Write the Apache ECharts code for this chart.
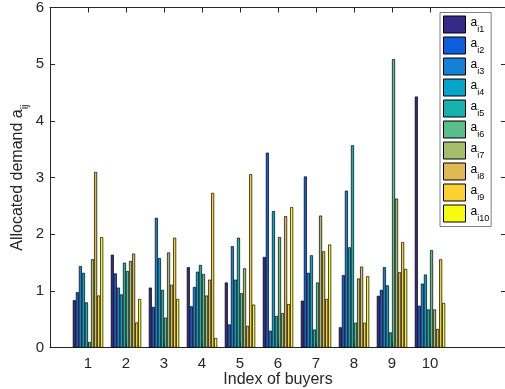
<!DOCTYPE html>
<html>
<head>
<meta charset="utf-8">
<script src="https://cdn.jsdelivr.net/npm/echarts@6/dist/echarts.min.js"></script>
<style>html,body{margin:0;padding:0;background:#fff}#c{width:505px;height:389px}</style>
</head>
<body>
<div id="c"></div>
<script>
// Index of buyers
const buyers = [1, 2, 3, 4, 5, 6, 7, 8, 9, 10];
const xTicks = [1, 2, 3, 4, 5, 6, 7, 8, 9, 10];
const yTicks = [0, 1, 2, 3, 4, 5, 6];
const seriesNames = ['i1', 'i2', 'i3', 'i4', 'i5', 'i6', 'i7', 'i8', 'i9', 'i10'];
// Allocated demand per series (one value per buyer)
const ai1  = [0.84, 1.64, 1.06, 1.42, 1.15, 1.60, 0.83, 0.36, 0.915, 4.43];
const ai2  = [0.98, 1.31, 0.72, 0.73, 0.41, 3.44, 3.02, 1.28, 1.02, 0.74];
const ai3  = [1.44, 1.06, 2.29, 1.07, 1.79, 0.30, 1.32, 2.77, 1.42, 1.13];
const ai4  = [1.32, 0.94, 1.58, 1.34, 1.20, 2.41, 1.63, 1.77, 1.10, 1.29];
const ai5  = [0.80, 1.50, 1.02, 1.46, 1.94, 0.56, 0.32, 3.57, 0.27, 0.675];
const ai6  = [0.10, 1.35, 0.53, 1.30, 0.96, 1.95, 1.15, 0.44, 5.09, 1.72];
const ai7  = [1.56, 1.53, 1.68, 0.92, 1.40, 0.61, 2.33, 1.22, 2.63, 0.675];
const ai8  = [3.10, 1.66, 1.11, 1.20, 0.385, 2.32, 1.70, 1.43, 1.33, 0.33];
const ai9  = [0.92, 0.445, 1.94, 2.73, 3.06, 0.77, 0.86, 0.44, 1.86, 1.56];
const ai10 = [1.95, 0.86, 0.86, 0.17, 0.76, 2.48, 1.82, 1.26, 1.39, 0.79];
const allSeries = [ai1, ai2, ai3, ai4, ai5, ai6, ai7, ai8, ai9, ai10];

const colors = ['#352a87', '#0f5cdd', '#1481d6', '#06a4ca', '#17b2b0',
                '#59bd8c', '#a5be6b', '#e0b952', '#fcd030', '#f9fb0e'];
const axisColor = '#262626';
const fontFam = '"Liberation Sans", Arial, Helvetica, sans-serif';

const chart = echarts.init(document.getElementById('c'), null, {renderer: 'canvas'});

const series = allSeries.map((vals, s) => ({
  name: seriesNames[s],
  type: 'bar',
  xAxisIndex: 0,
  yAxisIndex: 0,
  barGap: 0,
  barCategoryGap: '20%',
  itemStyle: {color: colors[s], borderColor: '#000', borderWidth: 0.7},
  emphasis: {disabled: true},
  animation: false,
  data: buyers.map((b, i) => [b, vals[i]])
}));

const tickStyle = {show: true, inside: true, length: 5, lineStyle: {color: axisColor, width: 1}};

chart.setOption({
  backgroundColor: '#fff',
  animation: false,
  textStyle: {fontFamily: fontFam},
  grid: {left: 50, right: -1, top: 7.5, bottom: 41.3, containLabel: false, outerBoundsMode: 'none'},
  legend: {
    orient: 'vertical',
    left: 440,
    top: 12.5,
    padding: [3, 2, 3, 3],
    itemWidth: 22,
    itemHeight: 17,
    itemGap: 2,
    icon: 'rect',
    backgroundColor: '#fff',
    borderColor: axisColor,
    borderWidth: 0.6,
    borderRadius: 0,
    selectedMode: false,
    itemStyle: {borderColor: '#000', borderWidth: 1},
    data: seriesNames,
    formatter: n => '{a|a}{s|' + n + '}',
    textStyle: {
      color: '#000',
      rich: {
        a: {fontSize: 12, lineHeight: 20, fontFamily: fontFam, color: '#000', padding: [0, 0, 3, 0]},
        s: {fontSize: 9, lineHeight: 20, fontFamily: fontFam, color: '#000', verticalAlign: 'bottom'}
      }
    }
  },
  xAxis: [{
    type: 'value', min: 0, max: 12, interval: 1, position: 'bottom',
    name: 'Index of buyers', nameLocation: 'middle', nameGap: 24, nameMoveOverlap: false,
    nameTextStyle: {fontSize: 16, color: '#262626', fontFamily: fontFam},
    axisLine: {show: true, onZero: false, lineStyle: {color: axisColor, width: 1}},
    axisTick: Object.assign({customValues: xTicks}, tickStyle),
    axisLabel: {customValues: xTicks, fontSize: 15, color: '#262626', margin: 9, fontFamily: fontFam},
    splitLine: {show: false}
  }, {
    type: 'value', min: 0, max: 12, interval: 1, position: 'top',
    axisLine: {show: true, onZero: false, lineStyle: {color: axisColor, width: 1}},
    axisTick: Object.assign({customValues: xTicks}, tickStyle),
    axisLabel: {show: false},
    splitLine: {show: false}
  }],
  yAxis: [{
    type: 'value', min: 0, max: 6, interval: 1, position: 'left',
    name: 'Allocated demand {a|a}{s|ij}', nameLocation: 'middle', nameGap: 20, nameMoveOverlap: false,
    nameTextStyle: {
      fontSize: 16, color: '#262626', fontFamily: fontFam,
      rich: {
        a: {fontSize: 16, color: '#262626', fontFamily: fontFam, lineHeight: 24},
        s: {fontSize: 11, color: '#262626', fontFamily: fontFam, lineHeight: 24, verticalAlign: 'bottom'}
      }
    },
    axisLine: {show: true, onZero: false, lineStyle: {color: axisColor, width: 1}},
    axisTick: Object.assign({customValues: yTicks}, tickStyle),
    axisLabel: {customValues: yTicks, fontSize: 15, color: '#262626', margin: 6, fontFamily: fontFam},
    splitLine: {show: false}
  }, {
    type: 'value', min: 0, max: 6, interval: 1, position: 'right',
    axisLine: {show: true, onZero: false, lineStyle: {color: axisColor, width: 1}},
    axisTick: Object.assign({customValues: yTicks}, tickStyle),
    axisLabel: {show: false},
    splitLine: {show: false}
  }],
  series: series
});
</script>
</body>
</html>
